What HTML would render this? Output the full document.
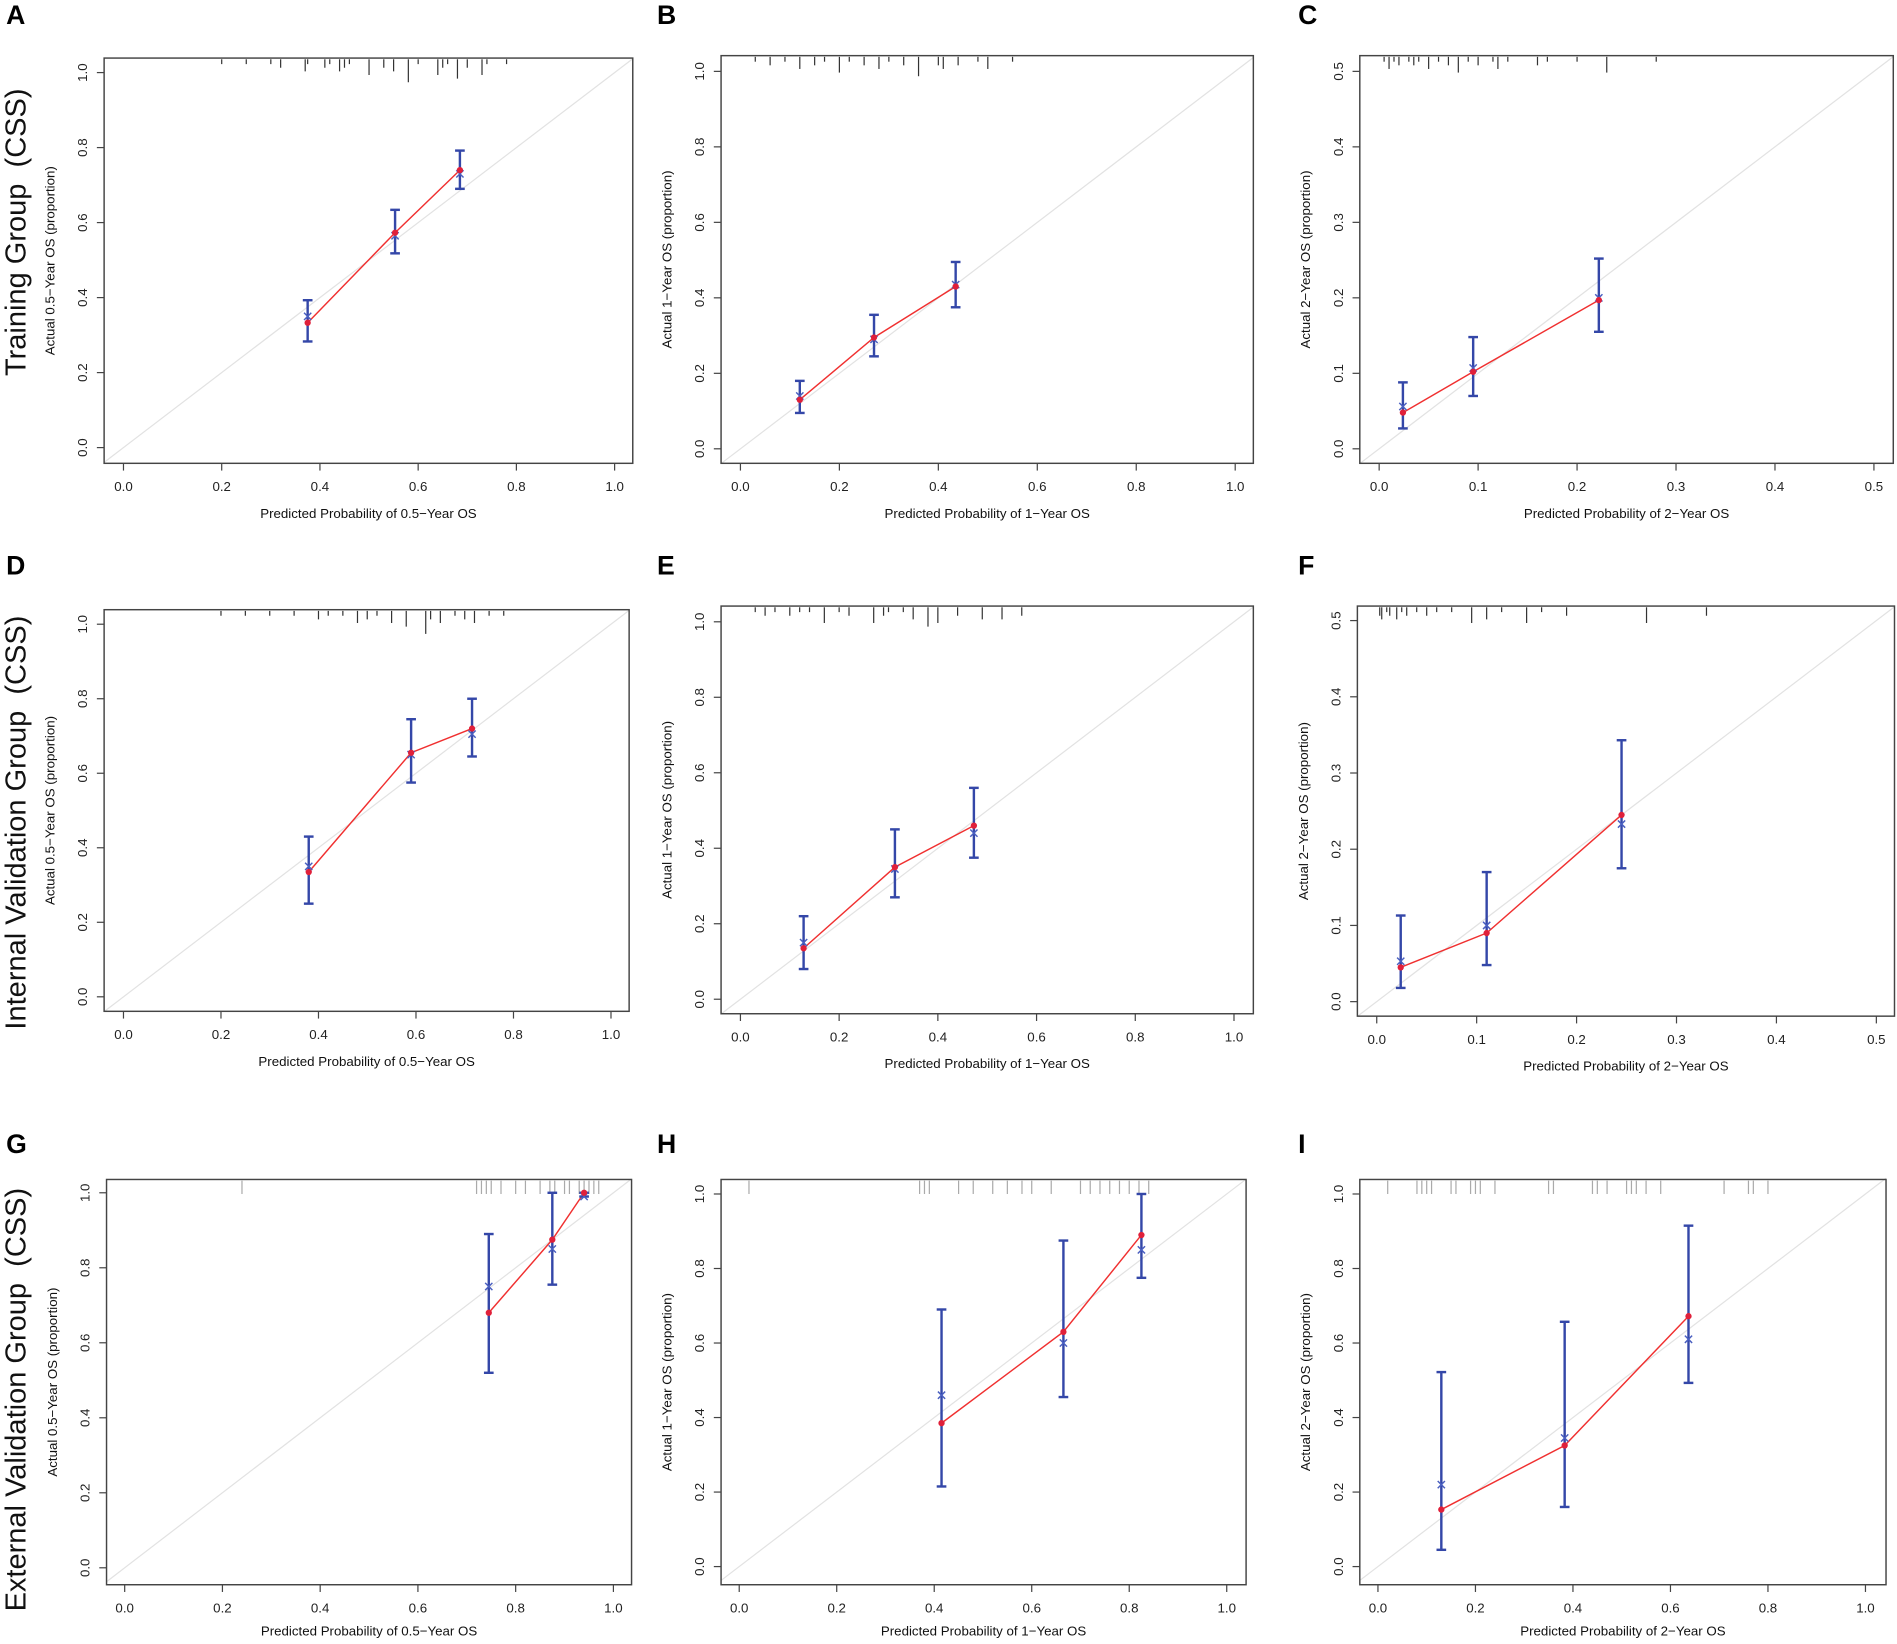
<!DOCTYPE html>
<html><head><meta charset="utf-8">
<style>
html,body{margin:0;padding:0;background:#fff;}
svg{display:block;font-family:"Liberation Sans",Arial,sans-serif;}
</style></head>
<body>
<svg id="fig" width="1897" height="1644" viewBox="0 0 1568 1359" xmlns="http://www.w3.org/2000/svg"></svg>
<script>
// ---- data (one small set of arrays per panel) ----
const predA=[0.375,0.553,0.685], obsA=[0.333,0.573,0.74], loA=[0.283,0.518,0.69], hiA=[0.393,0.634,0.792], xA=[0.35,0.565,0.73];
const predB=[0.12,0.27,0.435], obsB=[0.13,0.295,0.43], loB=[0.095,0.245,0.375], hiB=[0.18,0.355,0.495], xB=[0.14,0.29,0.435];
const predC=[0.024,0.095,0.222], obsC=[0.048,0.102,0.197], loC=[0.027,0.07,0.155], hiC=[0.088,0.148,0.252], xC=[0.056,0.107,0.2];
const predD=[0.38,0.59,0.715], obsD=[0.335,0.655,0.72], loD=[0.25,0.575,0.645], hiD=[0.43,0.745,0.8], xD=[0.35,0.65,0.705];
const predE=[0.128,0.313,0.473], obsE=[0.135,0.35,0.46], loE=[0.08,0.27,0.375], hiE=[0.22,0.45,0.56], xE=[0.15,0.345,0.44];
const predF=[0.024,0.11,0.245], obsF=[0.045,0.09,0.245], loF=[0.018,0.048,0.175], hiF=[0.113,0.17,0.343], xF=[0.053,0.1,0.233];
const predG=[0.745,0.875,0.94], obsG=[0.68,0.875,1.0], loG=[0.52,0.755,0.99], hiG=[0.89,1.0,1.0], xG=[0.75,0.85,0.99];
const predH=[0.415,0.665,0.825], obsH=[0.385,0.63,0.89], loH=[0.215,0.455,0.775], hiH=[0.69,0.875,1.0], xH=[0.46,0.60,0.85];
const predI=[0.13,0.383,0.637], obsI=[0.153,0.325,0.672], loI=[0.045,0.16,0.493], hiI=[0.522,0.657,0.915], xI=[0.22,0.345,0.61];
const ticks1=["0.0","0.2","0.4","0.6","0.8","1.0"];
const ticks05=["0.0","0.1","0.2","0.3","0.4","0.5"];
const rugA=[0.2,0.25,0.3,0.32,0.37,0.375,0.41,0.42,0.44,0.45,0.46,0.5,0.53,0.55,0.58,0.6,0.64,0.65,0.66,0.68,0.7,0.73,0.74,0.78];
const rugLenA=[1,1,1,2,3,1,2,1,3,2,1,4,2,3,6,1,4,2,1,5,2,4,1,1];
const rugB=[0.03,0.06,0.09,0.12,0.15,0.17,0.2,0.22,0.25,0.28,0.3,0.33,0.36,0.4,0.41,0.44,0.48,0.5,0.55];
const rugLenB=[1,2,1,3,2,1,4,1,2,3,1,2,5,2,3,2,1,3,1];
const rugC=[0.005,0.01,0.015,0.02,0.03,0.035,0.04,0.05,0.06,0.07,0.08,0.09,0.1,0.115,0.12,0.13,0.16,0.17,0.2,0.23,0.28];
const rugLenC=[1,3,1,2,1,2,1,3,1,2,4,1,2,1,3,1,2,1,1,4,1];
const rugD=[0.2,0.25,0.3,0.35,0.4,0.42,0.45,0.48,0.5,0.52,0.55,0.58,0.62,0.63,0.65,0.68,0.7,0.72,0.75,0.78];
const rugLenD=[1,1,1,1,2,1,1,3,2,1,3,4,6,2,3,1,2,3,1,1];
const rugE=[0.03,0.05,0.07,0.1,0.12,0.14,0.17,0.2,0.22,0.27,0.29,0.3,0.33,0.35,0.38,0.4,0.44,0.49,0.53,0.57];
const rugLenE=[1,2,1,2,1,1,4,1,2,4,2,1,1,3,5,4,2,3,3,2];
const rugF=[0.003,0.005,0.01,0.013,0.02,0.025,0.03,0.04,0.05,0.06,0.075,0.095,0.11,0.125,0.15,0.165,0.19,0.27,0.33];
const rugLenF=[2,3,1,2,3,1,2,1,2,1,1,4,3,1,4,1,2,4,2];
const rugG=[0.24,0.72,0.73,0.74,0.75,0.77,0.8,0.82,0.85,0.87,0.88,0.9,0.91,0.93,0.94,0.95,0.96,0.97];
const rugH=[0.02,0.37,0.38,0.39,0.45,0.48,0.52,0.55,0.58,0.6,0.64,0.7,0.72,0.74,0.76,0.78,0.8,0.82,0.84];
const rugI=[0.02,0.08,0.09,0.1,0.11,0.15,0.16,0.19,0.2,0.21,0.24,0.35,0.36,0.44,0.45,0.47,0.51,0.52,0.53,0.55,0.58,0.71,0.76,0.77,0.8];

const NS="http://www.w3.org/2000/svg";
const svg=document.getElementById('fig');
function el(tag,attrs,parent,text){
  const e=document.createElementNS(NS,tag);
  for(const k in attrs) e.setAttribute(k,attrs[k]);
  if(text!==undefined) e.textContent=text;
  (parent||svg).appendChild(e);
  return e;
}
const panels=[
 {id:'A',L:86,R:523,T:48,B:383,x0:102,x1:508,y0:370,y1:60,max:1,ticks:ticks1,lab:'0.5',p:predA,o:obsA,lo:loA,hi:hiA,xm:xA,rug:rugA,rl:rugLenA,lx:5,ly:20,xo:45},
 {id:'B',L:596,R:1036,T:46,B:383,x0:612,x1:1021,y0:371,y1:59,max:1,ticks:ticks1,lab:'1',p:predB,o:obsB,lo:loB,hi:hiB,xm:xB,rug:rugB,rl:rugLenB,lx:543,ly:20,xo:45},
 {id:'C',L:1124,R:1565,T:46,B:383,x0:1140,x1:1549,y0:371,y1:59,max:0.5,ticks:ticks05,lab:'2',p:predC,o:obsC,lo:loC,hi:hiC,xm:xC,rug:rugC,rl:rugLenC,lx:1073,ly:20,xo:45},
 {id:'D',L:86,R:520,T:504,B:836,x0:102,x1:505,y0:824,y1:516,max:1,ticks:ticks1,lab:'0.5',p:predD,o:obsD,lo:loD,hi:hiD,xm:xD,rug:rugD,rl:rugLenD,lx:5,ly:475,xo:45},
 {id:'E',L:596,R:1036,T:501,B:838,x0:612,x1:1020,y0:826,y1:514,max:1,ticks:ticks1,lab:'1',p:predE,o:obsE,lo:loE,hi:hiE,xm:xE,rug:rugE,rl:rugLenE,lx:543,ly:475,xo:45},
 {id:'F',L:1122,R:1566,T:501,B:840,x0:1138,x1:1551,y0:828,y1:513,max:0.5,ticks:ticks05,lab:'2',p:predF,o:obsF,lo:loF,hi:hiF,xm:xF,rug:rugF,rl:rugLenF,lx:1073,ly:475,xo:45},
 {id:'G',L:88,R:522,T:975,B:1310,x0:103,x1:507,y0:1296,y1:986,max:1,ticks:ticks1,lab:'0.5',p:predG,o:obsG,lo:loG,hi:hiG,xm:xG,rug:rugG,rl:null,lx:5,ly:953,xo:42},
 {id:'H',L:596,R:1030,T:975,B:1310,x0:611,x1:1014,y0:1295,y1:987,max:1,ticks:ticks1,lab:'1',p:predH,o:obsH,lo:loH,hi:hiH,xm:xH,rug:rugH,rl:null,lx:543,ly:953,xo:42},
 {id:'I',L:1124,R:1559,T:975,B:1310,x0:1139,x1:1542,y0:1295,y1:987,max:1,ticks:ticks1,lab:'2',p:predI,o:obsI,lo:loI,hi:hiI,xm:xI,rug:rugI,rl:null,lx:1073,ly:953,xo:42}
];
panels.forEach(P=>{
  const g=el('g',{});
  
  
  const sx=v=>P.x0+(P.x1-P.x0)*v/P.max;
  const sy=v=>P.y0+(P.y1-P.y0)*v/P.max;
  const letter=el('text',{x:P.lx,y:P.ly,'font-size':22,'font-weight':'bold'},g,P.id);
  
  
  const ext=P.max*((P.L-P.x0)/(P.x1-P.x0));
  const ext2=P.max*((P.R-P.x0)/(P.x1-P.x0));
  const diag=el('line',{x1:P.L,y1:sy(ext),x2:P.R,y2:sy(ext2),stroke:'#e2e2e2','stroke-width':1},g);
  
  
  const row3=P.rl===null;
  P.rug.forEach((v,i)=>{
    const len=row3?11:P.rl[i]*3+1;
    const r=el('line',{x1:sx(v),x2:sx(v),y1:P.T+1,y2:P.T+1+len,stroke:row3?'#aaa':'#333','stroke-width':1},g);
    
    
  });
  const box=el('rect',{x:P.L,y:P.T,width:P.R-P.L,height:P.B-P.T,fill:'none',stroke:'#444','stroke-width':1.2},g);
  
  
  P.ticks.forEach((t,i)=>{
    const v=P.max*i/5;
    el('line',{x1:sx(v),x2:sx(v),y1:P.B,y2:P.B+6,stroke:'#444'},g);
    const xt=el('text',{x:sx(v),y:P.B+23,'font-size':11,'text-anchor':'middle',fill:'#222'},g,t);
    
    
    el('line',{x1:P.L,x2:P.L-6,y1:sy(v),y2:sy(v),stroke:'#444'},g);
    const yt=el('text',{x:0,y:0,'font-size':11,'text-anchor':'middle',fill:'#222',transform:`translate(${P.L-14},${sy(v)}) rotate(-90)`},g,t);
    
    
  });
  const xl=el('text',{x:(P.L+P.R)/2,y:P.B+P.xo,'font-size':11,'text-anchor':'middle',fill:'#111'},g,'Predicted Probability of '+P.lab+'\u2212Year OS');
  
  
  const yl=el('text',{x:0,y:0,'font-size':11,'text-anchor':'middle',fill:'#111',transform:`translate(${P.L-41},${(P.T+P.B)/2}) rotate(-90)`},g,'Actual '+P.lab+'\u2212Year OS (proportion)');
  
  
  const pts=P.p.map((v,i)=>sx(v)+','+sy(P.o[i])).join(' ');
  const pl=el('polyline',{points:pts,fill:'none',stroke:'#f03030','stroke-width':1.2},g);
  
  
  P.p.forEach((v,i)=>{
    const x=sx(v);
    const eb=el('g',{},g);
    
    
    el('line',{x1:x,x2:x,y1:sy(P.lo[i]),y2:sy(P.hi[i]),stroke:'#3447a8','stroke-width':2},eb);
    el('line',{x1:x-4,x2:x+4,y1:sy(P.lo[i]),y2:sy(P.lo[i]),stroke:'#3447a8','stroke-width':2},eb);
    el('line',{x1:x-4,x2:x+4,y1:sy(P.hi[i]),y2:sy(P.hi[i]),stroke:'#3447a8','stroke-width':2},eb);
    const cy=sy(P.xm[i]);
    el('path',{d:`M${x-3},${cy-3}L${x+3},${cy+3}M${x-3},${cy+3}L${x+3},${cy-3}`,stroke:'#4a5fc0','stroke-width':1.2},eb);
    const pt=el('circle',{cx:x,cy:sy(P.o[i]),r:2.6,fill:'#e0203a'},g);
    
    
  });
});
const rows=[["Training Group\u00a0\u00a0(CSS)",192],["Internal Validation Group\u00a0\u00a0(CSS)",680],["External Validation Group\u00a0\u00a0(CSS)",1157]];
rows.forEach(r=>{
  const t=el('text',{x:0,y:0,'font-size':24,'text-anchor':'middle',fill:'#111',transform:`translate(21,${r[1]}) rotate(-90)`},svg,r[0]);
  
  
});
</script>
</body></html>
